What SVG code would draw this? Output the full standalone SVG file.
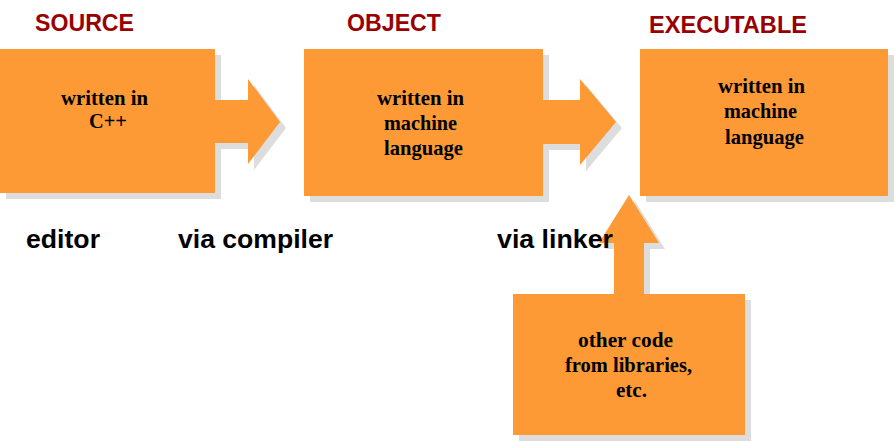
<svg xmlns="http://www.w3.org/2000/svg" width="895" height="442" viewBox="0 0 895 442">
<style>
.box{fill:#FD9A35}
.sh{fill:#DDDDDD}
.title{font-family:"Liberation Sans",Arial,sans-serif;font-weight:bold;font-size:23px;fill:#990000}
.lbl{font-family:"Liberation Sans",Arial,sans-serif;font-weight:bold;font-size:25px;fill:#000}
.t{font-family:"Liberation Serif","Times New Roman",serif;font-weight:bold;font-size:21px;fill:#000}
</style>
<rect width="895" height="442" fill="#fff"/>
<g id="shadows">
<rect class="sh" x="6" y="55" width="215" height="144"/>
<rect class="sh" x="310" y="55" width="239" height="147"/>
<rect class="sh" x="646" y="55" width="248" height="147"/>
<rect class="sh" x="519" y="300" width="232" height="141"/>
<polygon class="sh" points="221,106 254,106 254,85 286,128 254,170 254,149 221,149"/>
<polygon class="sh" points="549,106 586,106 586,85 622,128 586,171 586,150 549,150"/>
<polygon class="sh" points="620,300 620,249 605,249 635,201 665,249 650,249 650,300"/>
</g>
<g id="connectors">
<polygon id="arrow-compiler" class="box" points="214,100 248,100 248,79 280,122 248,164 248,143 214,143"/>
<polygon id="arrow-linker" class="box" points="542,100 580,100 580,79 616,122 580,165 580,144 542,144"/>
<polygon id="arrow-libraries" class="box" points="614,295 614,243 599,243 629,195 659,243 644,243 644,295"/>
</g>
<g id="source">
<text class="title" x="35" y="31" textLength="99" lengthAdjust="spacingAndGlyphs">SOURCE</text>
<rect class="box" x="0" y="49" width="215" height="144"/>
<text class="t" x="61" y="105" textLength="87" lengthAdjust="spacingAndGlyphs">written  in</text>
<text class="t" x="89" y="128" textLength="38" lengthAdjust="spacingAndGlyphs">C++</text>
</g>
<g id="object">
<text class="title" x="347" y="31" textLength="94" lengthAdjust="spacingAndGlyphs">OBJECT</text>
<rect class="box" x="304" y="49" width="239" height="147"/>
<text class="t" x="377" y="105" textLength="87" lengthAdjust="spacingAndGlyphs">written  in</text>
<text class="t" x="384" y="130" textLength="73" lengthAdjust="spacingAndGlyphs">machine</text>
<text class="t" x="384" y="155" textLength="79" lengthAdjust="spacingAndGlyphs">language</text>
</g>
<g id="executable">
<text class="title" x="649" y="33" textLength="158" lengthAdjust="spacingAndGlyphs">EXECUTABLE</text>
<rect class="box" x="640" y="49" width="248" height="147"/>
<text class="t" x="718" y="93" textLength="87" lengthAdjust="spacingAndGlyphs">written  in</text>
<text class="t" x="724" y="118" textLength="73" lengthAdjust="spacingAndGlyphs">machine</text>
<text class="t" x="725" y="144" textLength="79" lengthAdjust="spacingAndGlyphs">language</text>
</g>
<g id="libraries">
<rect class="box" x="513" y="294" width="232" height="141"/>
<text class="t" x="578" y="347" textLength="95" lengthAdjust="spacingAndGlyphs">other code</text>
<text class="t" x="565" y="372" textLength="127" lengthAdjust="spacingAndGlyphs">from libraries,</text>
<text class="t" x="616" y="397" textLength="31" lengthAdjust="spacingAndGlyphs">etc.</text>
</g>
<g id="labels">
<text class="lbl" x="26" y="248" textLength="74" lengthAdjust="spacingAndGlyphs">editor</text>
<text class="lbl" x="178" y="248" textLength="155" lengthAdjust="spacingAndGlyphs">via compiler</text>
<text class="lbl" x="497" y="248" textLength="116" lengthAdjust="spacingAndGlyphs">via linker</text>
</g>
</svg>
